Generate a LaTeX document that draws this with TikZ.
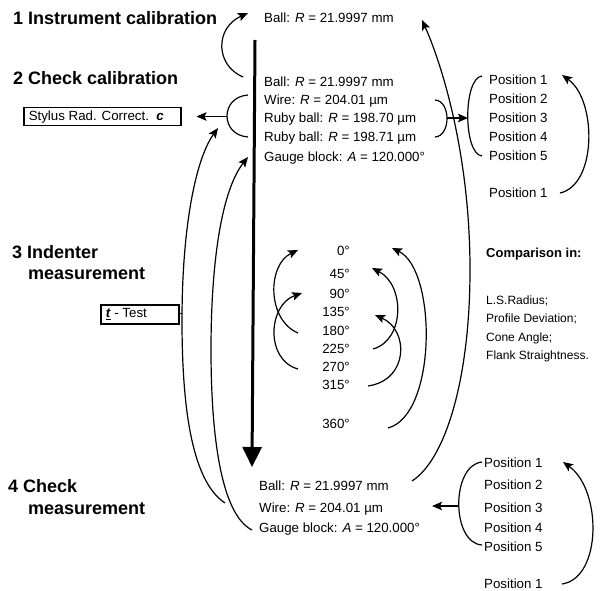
\documentclass[tikz,border=0pt]{standalone}
\usepackage{fontspec}
\setmainfont{Liberation Sans}
\usetikzlibrary{arrows.meta}
\begin{document}
\begin{tikzpicture}[x=1pt,y=-1pt,
  lbl/.style={inner sep=0pt, anchor=base west, font=\fontsize{13.3}{15}\selectfont},
  ang/.style={inner sep=0pt, anchor=base east, font=\fontsize{13.3}{15}\selectfont},
  head/.style={inner sep=0pt, anchor=base west, font=\fontsize{18}{20}\selectfont\bfseries},
  cmp/.style={inner sep=0pt, anchor=base west, font=\fontsize{12}{14}\selectfont},
  cmph/.style={inner sep=0pt, anchor=base west, font=\fontsize{13}{15}\selectfont\bfseries},
  cbox/.style={draw, line width=1.5pt, inner xsep=5pt, inner ysep=0pt, anchor=north west,
    font=\fontsize{13.3}{15}\selectfont},
  conn/.style={line width=1.2pt},
  arr/.style={conn, -{Stealth[length=10pt,width=8.5pt,inset=2pt]}},
  bigarr/.style={line width=3pt, -{Triangle[length=20pt,width=19pt]}},
]
\useasboundingbox (0,0) rectangle (610,591);

% headings
\node[head] (h1) at (13,24.5) {1 Instrument calibration};
\node[head] (h2) at (13,84.5) {2 Check calibration};
\node[head] (h3a) at (12,258.5) {3 Indenter};
\node[head] (h3b) at (28,279.5) {measurement};
\node[head] (h4a) at (8,492.5) {4 Check};
\node[head] (h4b) at (28,514.5) {measurement};

% step 1 and 2 texts
\node[lbl] (ball1) at (264,22.8) {Ball: \textit{R} = 21.9997 mm};
\node[lbl] (ball2) at (264,86.8) {Ball: \textit{R} = 21.9997 mm};
\node[lbl] (wire2) at (264,104.8) {Wire: \textit{R} = 204.01 µm};
\node[lbl] (ruby1) at (264,122.8) {Ruby ball: \textit{R} = 198.70 µm};
\node[lbl] (ruby2) at (264,141.8) {Ruby ball: \textit{R} = 198.71 µm};
\node[lbl] (gauge2) at (264,161.8) {Gauge block: \textit{A} = 120.000°};

% positions top
\node[lbl] (p1) at (489,84.8) {Position 1};
\node[lbl] (p2) at (489,103.8) {Position 2};
\node[lbl] (p3) at (489,122.8) {Position 3};
\node[lbl] (p4) at (489,141.8) {Position 4};
\node[lbl] (p5) at (489,160.8) {Position 5};
\node[lbl] (p1b) at (489,197.8) {Position 1};

% boxes
\node[cbox, minimum width=157pt, minimum height=18pt] (stylus) at (23,107)
  {\makebox[147pt][l]{Stylus Rad. Correct.~~\textbf{\textit{c}}}};
\node[cbox, minimum width=78pt, minimum height=19pt] (ttest) at (100,304)
  {\makebox[68pt][l]{\underline{\textbf{\textit{t}}} - Test}};

% angles
\node[ang] (a0) at (350,255.8) {0°};
\node[ang] (a45) at (350,278.8) {45°};
\node[ang] (a90) at (350,298.8) {90°};
\node[ang] (a135) at (350,316.8) {135°};
\node[ang] (a180) at (350,335.8) {180°};
\node[ang] (a225) at (350,353.8) {225°};
\node[ang] (a270) at (350,371.8) {270°};
\node[ang] (a315) at (350,389.8) {315°};
\node[ang] (a360) at (350,428.8) {360°};

% comparison
\node[cmph] (cmp0) at (486,257.5) {Comparison in:};
\node[cmp] (cmp1) at (486,304.3) {L.S.Radius;};
\node[cmp] (cmp2) at (486,322.3) {Profile Deviation;};
\node[cmp] (cmp3) at (486,341.3) {Cone Angle;};
\node[cmp] (cmp4) at (486,359.3) {Flank Straightness.};

% step 4 texts
\node[lbl] (ball4) at (259,490.8) {Ball: \textit{R} = 21.9997 mm};
\node[lbl] (wire4) at (259,512.8) {Wire: \textit{R} = 204.01 µm};
\node[lbl] (gauge4) at (259,532.8) {Gauge block: \textit{A} = 120.000°};

% positions bottom
\node[lbl] (q1) at (484,467.8) {Position 1};
\node[lbl] (q2) at (484,489.8) {Position 2};
\node[lbl] (q3) at (484,512.8) {Position 3};
\node[lbl] (q4) at (484,532.8) {Position 4};
\node[lbl] (q5) at (484,551.8) {Position 5};
\node[lbl] (q1b) at (484,588.8) {Position 1};

% coordinates
\coordinate (vtop) at (255,40);
\coordinate (vbot) at (252,467);
\coordinate (brLm) at (227,116.5);
\coordinate (brRm) at (447,118);
\coordinate (pbrm) at (468,118);
\coordinate (qbrm) at (459,506);
\coordinate (tick) at (182,313.5);

% main arrow
\draw[bigarr] (vtop) -- (vbot);

% step 2 -> step 1
\draw[arr] (243,77) .. controls (215,65) and (215,28) .. (248,13);

% bracket left + arrow to stylus
\draw[conn] (248,95) .. controls (220,97) and (220,135) .. (248,137);
\draw[arr] (brLm) -- ([xshift=15pt]stylus.east |- brLm);

% bracket right + arrow to positions
\draw[conn] (435,100) .. controls (451,101) and (451,136) .. (435,137);
\draw[arr] (brRm) -- (pbrm);
\draw[conn] (482,76) .. controls (463,78) and (463,154) .. (482,156);
\draw[arr] (560,193) .. controls (597,185) and (597,100) .. (562,75);

% big right curve (step 4 ball -> step 1 ball)
\draw[arr] (412,481) .. controls (445,460) and (470,380) .. (470,270)
  .. controls (470,150) and (440,60) .. (422,20);

% left long curves
\draw[arr] (225,503) .. controls (190,480) and (182,400) .. (182,320)
  .. controls (182,230) and (195,160) .. (218,128);
\draw[arr] (252,530) .. controls (222,515) and (211,440) .. (211,350)
  .. controls (211,260) and (222,190) .. (248,157);
\draw[conn] (ttest.east |- tick) -- (tick);

% angle arcs
\draw[arr] (298,333) .. controls (267,320) and (267,265) .. (298,250);
\draw[arr] (298,369) .. controls (265,360) and (268,305) .. (302,293);
\draw[arr] (373,349) .. controls (405,340) and (405,285) .. (372,268);
\draw[arr] (368,386) .. controls (409,380) and (409,330) .. (375,315);
\draw[arr] (388,428) .. controls (437,415) and (437,270) .. (392,248);

% bottom positions
\draw[conn] (482,462) .. controls (451,465) and (451,543) .. (482,545);
\draw[arr] (qbrm) -- (432,506);
\draw[arr] (562,584) .. controls (602,578) and (602,490) .. (563,462);
\end{tikzpicture}
\end{document}
